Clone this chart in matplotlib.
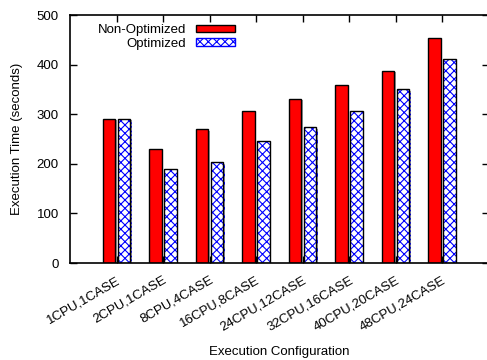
import numpy as np
import matplotlib
matplotlib.use("Agg")
import matplotlib.pyplot as plt
import matplotlib.patheffects as pe
import matplotlib.transforms as mtransforms
from matplotlib.patches import Rectangle

plt.rcParams['font.family'] = ['Liberation Sans', 'DejaVu Sans']
plt.rcParams['font.size'] = 9.5
plt.rcParams['hatch.linewidth'] = 0.8

configs = ['1CPU,1CASE', '2CPU,1CASE', '8CPU,4CASE', '16CPU,8CASE',
           '24CPU,12CASE', '32CPU,16CASE', '40CPU,20CASE', '48CPU,24CASE']
non_optimized = [291, 230, 270, 306, 331, 358, 388, 453]
optimized = [291, 189, 203, 246, 274, 306, 350, 411]

fig = plt.figure(figsize=(4.87, 3.6), dpi=100)
ax = fig.add_axes([70 / 487, 97 / 360, 418.5 / 487, 248 / 360])

x = np.arange(len(configs))
w = 0.27
shadow = [pe.SimplePatchShadow(offset=(1.2, -1.2), shadow_rgbFace='0.45', alpha=0.7), pe.Normal()]

ax.bar(x - 0.165, non_optimized, w, color='#ff0000', edgecolor='black',
       linewidth=1.0, path_effects=shadow, zorder=2)
# hatched bars: blue hatch first, then black outline on top
ax.bar(x + 0.16, optimized, w, color='white', edgecolor='blue', hatch='xxxx',
       linewidth=0, path_effects=shadow, zorder=2)
ax.bar(x + 0.16, optimized, w, fill=False, edgecolor='black', linewidth=1.0, zorder=3)

ax.set_xlim(-1, 8)
ax.set_ylim(0, 500)
ax.set_yticks(range(0, 501, 100))
ax.set_xticks(x)
ax.set_xticklabels(configs, rotation=30, ha='right', rotation_mode='anchor')
shift = mtransforms.ScaledTranslation(-6 / 100, 0, fig.dpi_scale_trans)
for lbl in ax.get_xticklabels():
    lbl.set_transform(lbl.get_transform() + shift)
ax.tick_params(direction='in', top=True, right=True, length=5, width=1.0)
ax.tick_params(axis='y', pad=8)
ax.tick_params(axis='x', pad=8)
for s in ax.spines.values():
    s.set_linewidth(1.2)

ax.set_ylabel('Execution Time (seconds)', labelpad=10)
ax.set_xlabel('Execution Configuration')
ax.xaxis.set_label_coords(0.5, -0.335)

red_h = Rectangle((0, 0), 1, 1, facecolor='#ff0000', edgecolor='black', linewidth=1.0)
blue_h = Rectangle((0, 0), 1, 1, facecolor='white', edgecolor='blue', hatch='xxxx', linewidth=1.0)
ax.legend([red_h, blue_h], ['Non-Optimized', 'Optimized'], loc='upper left',
          bbox_to_anchor=(0.045, 1.0), frameon=False, markerfirst=False,
          handlelength=2.95, handleheight=0.5, handletextpad=0.75,
          labelspacing=0.1, borderaxespad=0.3)

fig.savefig('out.png', dpi=100)
